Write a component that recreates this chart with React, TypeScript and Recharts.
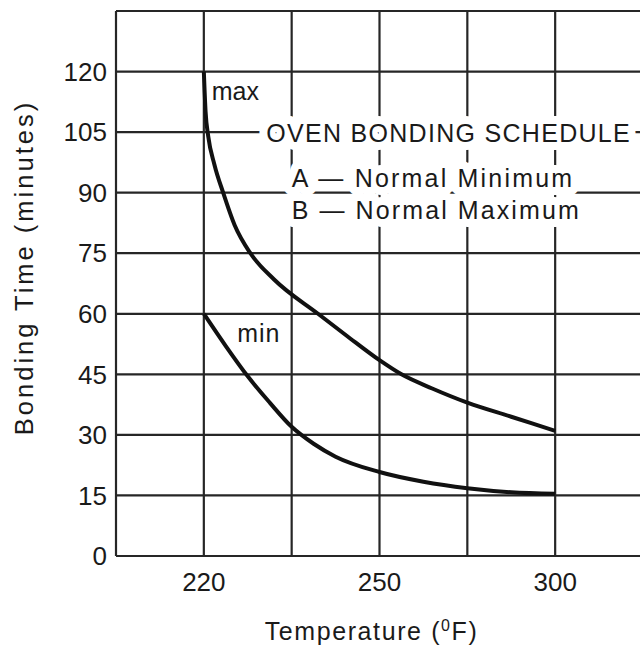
import React from 'react';
import { LineChart, Line, XAxis, YAxis, CartesianGrid, ReferenceDot } from 'recharts';

// x axis is drawn on the chart's own (non-linear) temperature grid: one unit per grid column
const gridSteps = [0, 1, 2, 3, 4, 5, 6];
const tempLabels = ['', '220', '', '250', '', '300', ''];
const timeTicks = [0, 15, 30, 45, 60, 75, 90, 105, 120, 135];

// curve B, normal maximum
const maxGrid = [1.0, 1.02, 1.05, 1.12, 1.22, 1.35, 1.53, 1.8, 2.3, 2.63, 3.0, 3.25, 3.6, 4.0, 4.5, 5.0];
const maxTime = [120, 110, 104, 97, 90, 82, 75, 68.5, 60, 54.5, 48.5, 45, 41.5, 38, 34.5, 31];

// curve A, normal minimum
const minGrid = [1.0, 1.25, 1.5, 1.75, 2.0, 2.25, 2.5, 3.0, 3.5, 4.0, 4.5, 5.0];
const minTime = [60, 52, 44.5, 38, 32, 27.8, 24.6, 20.8, 18.4, 16.8, 15.8, 15.4];

const notes = [
  { x: 1.09, y: 113, text: 'max', spacing: 0, halo: 0 },
  { x: 1.38, y: 53, text: 'min', spacing: 1, halo: 0 },
  { x: 1.71, y: 102.5, text: 'OVEN BONDING SCHEDULE', spacing: 1.3, halo: 16 },
  { x: 2.0, y: 91.3, text: 'A \u2014 Normal Minimum', spacing: 2.2, halo: 16 },
  { x: 2.0, y: 83.6, text: 'B \u2014 Normal Maximum', spacing: 2.1, halo: 16 },
];

const maxData = maxGrid.map((x, i) => ({ x, y: maxTime[i] }));
const minData = minGrid.map((x, i) => ({ x, y: minTime[i] }));

const FONT = '"Liberation Sans", Arial, sans-serif';
const INK = '#1a1a1a';

const NoteText = ({ cx, cy, text, spacing, halo }: any) => (
  <text
    x={cx}
    y={cy}
    fontFamily={FONT}
    fontSize={25}
    letterSpacing={spacing}
    fill={INK}
    stroke={halo ? '#fff' : 'none'}
    strokeWidth={halo}
    paintOrder="stroke"
    strokeLinejoin="round"
  >
    {text}
  </text>
);

const XTitle = ({ viewBox }: any) => (
  <text
    x={viewBox.x + viewBox.width / 2 - 8}
    y={viewBox.y + 84}
    textAnchor="middle"
    fontFamily={FONT}
    fontSize={25}
    letterSpacing={1.6}
    fill={INK}
  >
    Temperature (<tspan fontSize={16} dy={-9}>0</tspan>
    <tspan dy={9}>F)</tspan>
  </text>
);

const YTitle = ({ viewBox }: any) => {
  const cx = 33;
  const cy = viewBox.y + viewBox.height / 2 - 16;
  return (
    <text
      x={cx}
      y={cy}
      transform={`rotate(-90, ${cx}, ${cy})`}
      textAnchor="middle"
      fontFamily={FONT}
      fontSize={25.5}
      letterSpacing={3}
      fill={INK}
    >
      Bonding Time (minutes)
    </text>
  );
};

export default function App() {
  return (
    <div
      style={{
        position: 'fixed',
        left: 0,
        top: 0,
        width: 640,
        height: 646,
        overflow: 'hidden',
        background: '#fff',
      }}
    >
      <LineChart width={700} height={646} margin={{ top: 11, right: 57, bottom: 0, left: 0 }}>
        <CartesianGrid stroke="#262626" strokeWidth={2.2} />
        <XAxis
          dataKey="x"
          type="number"
          domain={[0, 6]}
          ticks={gridSteps}
          tickFormatter={(v: number) => tempLabels[v] ?? ''}
          axisLine={false}
          tickLine={false}
          tickMargin={11}
          height={90}
          tick={{ fontFamily: FONT, fontSize: 26, fill: INK }}
          label={<XTitle />}
        />
        <YAxis
          type="number"
          domain={[0, 135]}
          ticks={timeTicks}
          tickFormatter={(v: number) => (v === 135 ? '' : String(v))}
          axisLine={false}
          tickLine={false}
          tickMargin={3}
          width={116}
          tick={{ fontFamily: FONT, fontSize: 26, fill: INK }}
          label={<YTitle />}
        />
        <Line
          data={maxData}
          dataKey="y"
          type="monotone"
          stroke="#111"
          strokeWidth={4}
          dot={false}
          isAnimationActive={false}
        />
        <Line
          data={minData}
          dataKey="y"
          type="monotone"
          stroke="#111"
          strokeWidth={4}
          dot={false}
          isAnimationActive={false}
        />
        {notes.map((n) => (
          <ReferenceDot
            key={n.text}
            x={n.x}
            y={n.y}
            r={0}
            shape={(p: any) => (
              <NoteText cx={p.cx} cy={p.cy} text={n.text} spacing={n.spacing} halo={n.halo} />
            )}
          />
        ))}
      </LineChart>
    </div>
  );
}
